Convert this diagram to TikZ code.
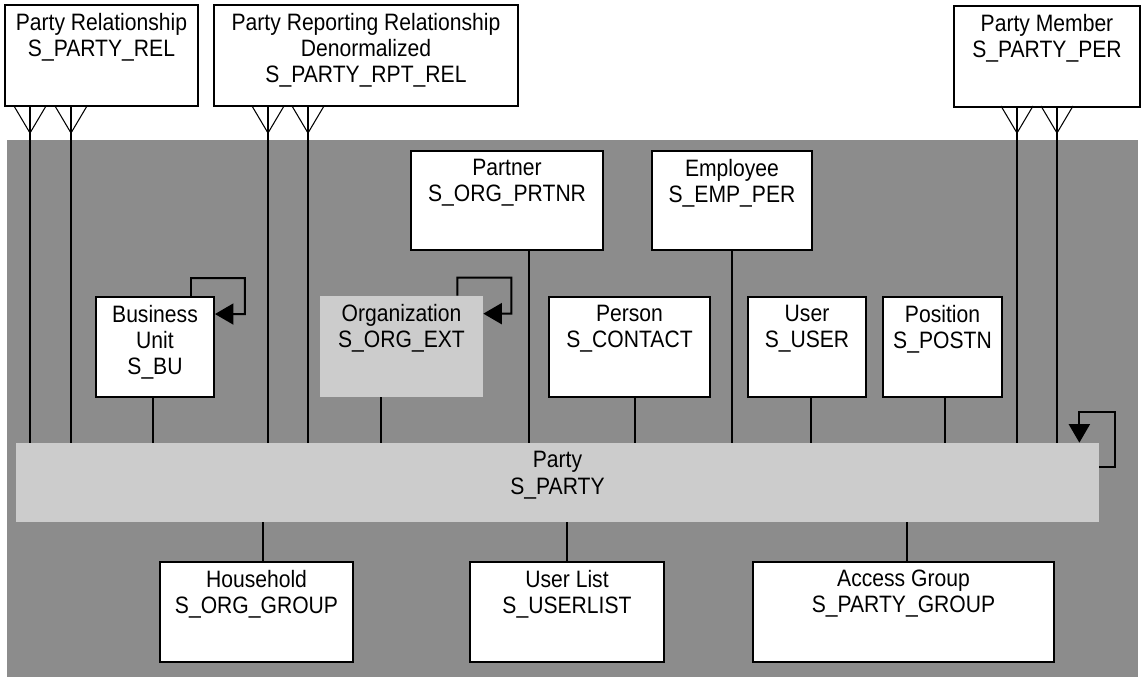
\documentclass[tikz,border=0pt]{standalone}
\usepackage{fontspec}
\setmainfont{Liberation Sans}[FakeStretch=0.89]
\usetikzlibrary{arrows.meta,fit}
\definecolor{bgfill}{HTML}{8C8C8C}
\definecolor{softfill}{HTML}{CCCCCC}

\tikzset{
  entity/.style={draw=black, line width=1.1pt, fill=white, inner sep=0pt},
  plain/.style={fill=softfill, inner sep=0pt},
  caption/.style={anchor=north, align=center, inner sep=0.17cm,
    font=\fontsize{13.5}{14.9}\selectfont},
  link/.style={line width=1.1pt},
  foot/.style={line width=0.6pt},
  selfref/.style={line width=1.1pt, -{Triangle[length=0.37cm,width=0.42cm]}},
}

\begin{document}
\begin{tikzpicture}[x=0.02cm, y=-0.02cm]
  \useasboundingbox (0,0) rectangle (1145,677);
  \fill[bgfill] (7,140) rectangle (1138,677);
  % tables outside the party area
  \node[entity, fit={(5,5) (198,106)}] (rel) {};
  \node[entity, fit={(214,5) (518,106)}] (rpt) {};
  \node[entity, fit={(954,6) (1140,107)}] (mem) {};
  % party subtypes
  \node[entity, fit={(411,151) (603,250)}] (prtnr) {};
  \node[entity, fit={(652,151) (812,250)}] (emp) {};
  \node[entity, fit={(96,297) (214,397)}] (bu) {};
  \node[plain, fit={(320,296) (483,397)}] (org) {};
  \node[entity, fit={(549,297) (710,397)}] (contact) {};
  \node[entity, fit={(748,297) (866,397)}] (user) {};
  \node[entity, fit={(883,297) (1002,397)}] (postn) {};
  \node[plain, fit={(16,443) (1099,522)}] (party) {};
  \node[entity, fit={(160,562) (353,662)}] (hh) {};
  \node[entity, fit={(470,562) (664,662)}] (ulist) {};
  \node[entity, fit={(753,562) (1054,662)}] (agrp) {};

  \node[caption] (rel-t) at (rel.north) {Party Relationship\\S\_PARTY\_REL};
  \node[caption] (rpt-t) at (rpt.north) {Party Reporting Relationship\\Denormalized\\S\_PARTY\_RPT\_REL};
  \node[caption] (mem-t) at (mem.north) {Party Member\\S\_PARTY\_PER};
  \node[caption] (prtnr-t) at (prtnr.north) {Partner\\S\_ORG\_PRTNR};
  \node[caption] (emp-t) at (emp.north) {Employee\\S\_EMP\_PER};
  \node[caption] (bu-t) at (bu.north) {Business\\Unit\\S\_BU};
  \node[caption] (org-t) at (org.north) {Organization\\S\_ORG\_EXT};
  \node[caption] (contact-t) at (contact.north) {Person\\S\_CONTACT};
  \node[caption] (user-t) at (user.north) {User\\S\_USER};
  \node[caption] (postn-t) at (postn.north) {Position\\S\_POSTN};
  \node[caption] (party-t) at (party.north) {Party\\S\_PARTY};
  \node[caption] (hh-t) at (hh.north) {Household\\S\_ORG\_GROUP};
  \node[caption] (ulist-t) at (ulist.north) {User List\\S\_USERLIST};
  \node[caption] (agrp-t) at (agrp.north) {Access Group\\S\_PARTY\_GROUP};

  % one-to-one links
  \foreach \n/\x in {bu/153, org/381, prtnr/529, contact/635, emp/732, user/811, postn/945}
    \draw[link] (\n.south -| \x,0) -- (party.north -| \x,0);
  \foreach \n/\x in {hh/263, ulist/567, agrp/907}
    \draw[link] (party.south -| \x,0) -- (\n.north -| \x,0);
  % many-side links with crow's feet
  \foreach \n/\x in {rel/30, rel/71, rpt/268, rpt/308, mem/1017, mem/1057} {
    \draw[link] (\n.south -| \x,0) -- (party.north -| \x,0);
    \draw[foot] (\x-16,106) -- (\x,133) -- (\x+16,106);
  }
  % self references
  \foreach \n/\d in {bu/0.48cm, org/0.52cm}
    \draw[selfref] ([xshift=-\d]\n.north east) -- ++(0cm,0.36cm) -- ++(1.08cm,0cm)
      -- ++(0cm,-0.72cm) -- ([yshift=-0.36cm]\n.north east);
  \draw[selfref] ([yshift=-0.48cm]party.north east) -- ++(0.32cm,0cm) -- ++(0cm,1.1cm)
    -- ++(-0.72cm,0cm) -- ([xshift=-0.4cm]party.north east);
\end{tikzpicture}
\end{document}
